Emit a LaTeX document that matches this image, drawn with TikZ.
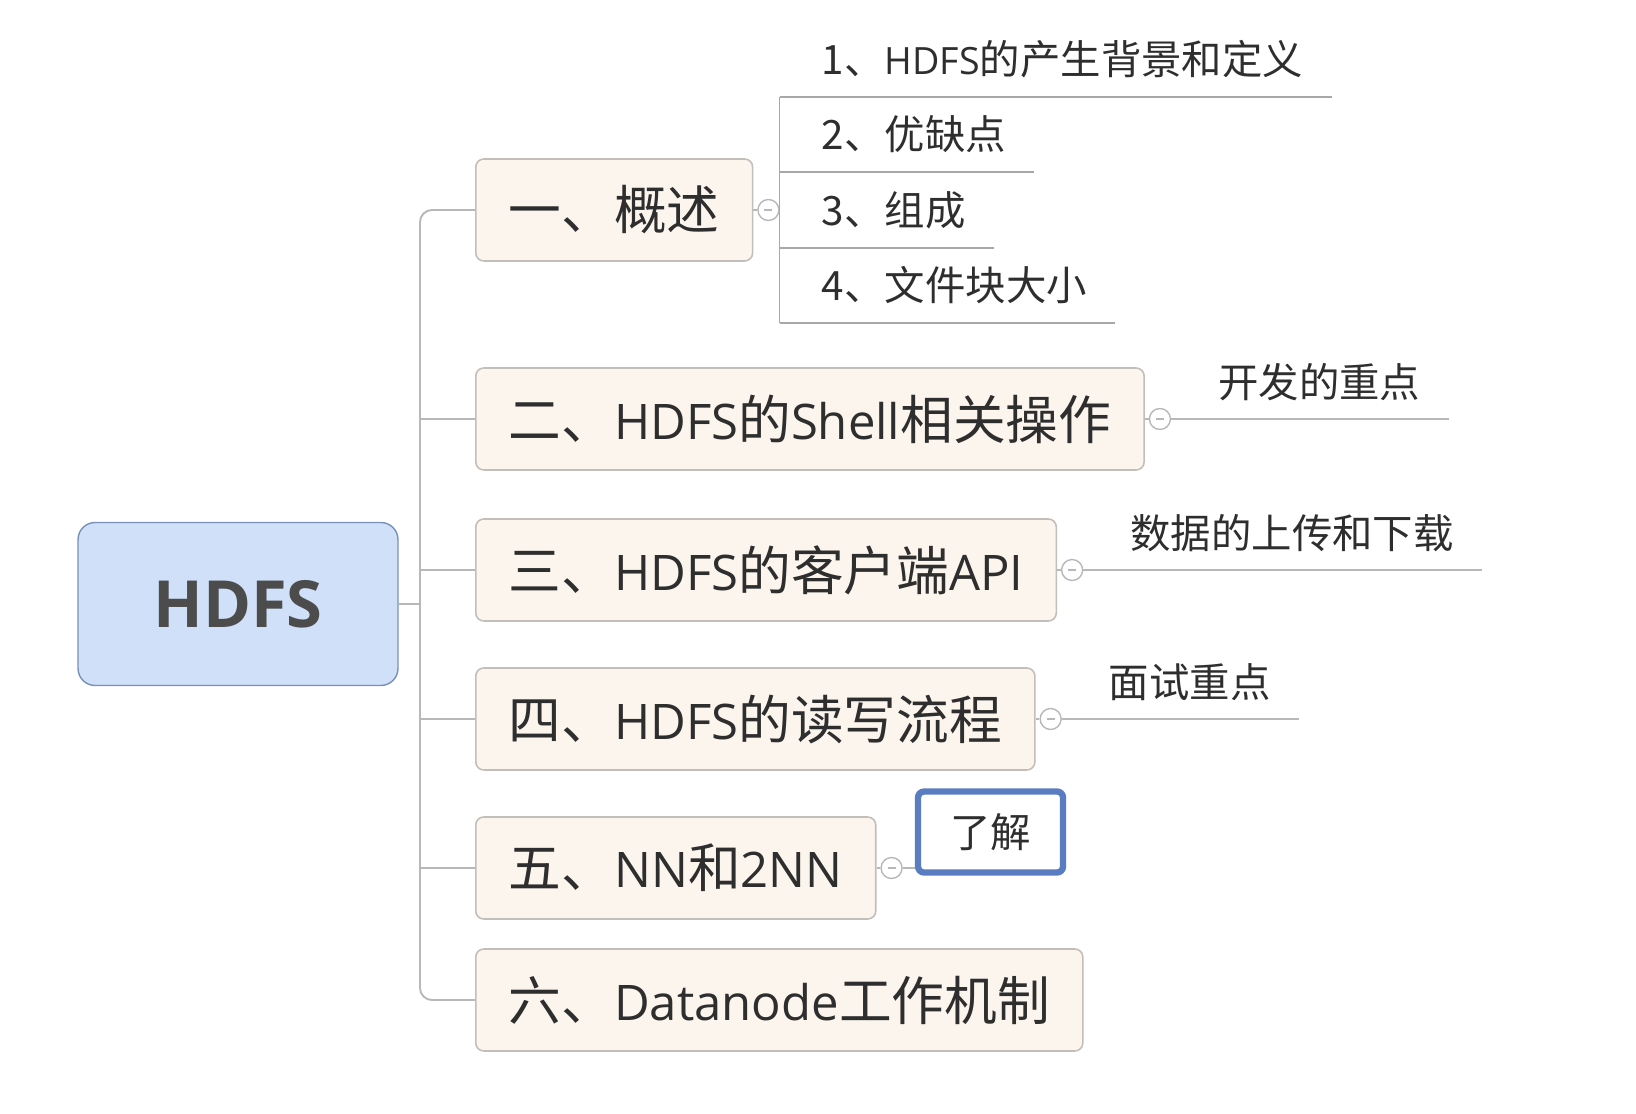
\documentclass[tikz,border=0pt]{standalone}
\usepackage{fontspec}
\setmainfont{Noto Sans CJK SC}
\newfontfamily\enfont[Scale=0.93]{Open Sans}
\newfontfamily\rootfont{Open Sans}
\newcommand{\en}[1]{{\enfont #1}}
\usetikzlibrary{calc}
\definecolor{topicfill}{HTML}{FCF5EE}
\definecolor{topicline}{HTML}{C2BEBA}
\definecolor{rootfill}{HTML}{CFE0F8}
\definecolor{rootline}{HTML}{7A90B8}
\definecolor{conncol}{HTML}{B8B8B8}
\definecolor{subcol}{HTML}{A8A8A8}
\definecolor{tagline}{HTML}{5A7DC2}
\definecolor{textcol}{HTML}{2E2E2E}
\tikzset{
  root/.style={draw=rootline, fill=rootfill, rounded corners=0.34cm, line width=0.8pt,
    minimum width=6.4cm, minimum height=3.26cm, text=black!70,
    font=\rootfont\bfseries\fontsize{37}{37}\selectfont},
  topic/.style={draw=topicline, fill=topicfill, rounded corners=0.16cm, line width=0.9pt,
    minimum height=2.04cm, inner xsep=0.66cm, anchor=west, text=textcol,
    font=\fontsize{30}{30}\selectfont},
  sub/.style={anchor=west, inner sep=0pt, text=textcol, font=\fontsize{23}{23}\selectfont},
  note/.style={sub},
  tag/.style={draw=tagline, line width=3.6pt, rounded corners=0.12cm, fill=white,
    minimum width=2.9cm, minimum height=1.62cm, text=textcol, font=\fontsize{23}{23}\selectfont},
  conn/.style={draw=conncol, line width=1.1pt},
  subline/.style={draw=subcol, line width=0.8pt},
  knob/.style={circle, draw=conncol, fill=white, minimum size=0.42cm, inner sep=0pt, line width=0.8pt,
    path picture={\draw[conncol, line width=0.6pt]
      ($(path picture bounding box.center)+(-4,0)$) -- ($(path picture bounding box.center)+(4,0)$);}}
}
\begin{document}
\begin{tikzpicture}[x=0.02cm, y=-0.02cm]
  \useasboundingbox (0,0) rectangle (1636,1114);
  % Root
  \node[root] (hdfs) at (238,604) {HDFS};
  % Topics
  \node[topic] (t1) at (475,210) {一、概述};
  \node[topic] (t2) at (475,419) {二、\en{HDFS}的\en{Shell}相关操作};
  \node[topic] (t3) at (475,570) {三、\en{HDFS}的客户端\en{API}};
  \node[topic] (t4) at (475,719) {四、\en{HDFS}的读写流程};
  \node[topic] (t5) at (475,868) {五、\en{NN}和\en{2NN}};
  \node[topic] (t6) at (475,1000) {六、\en{Datanode}工作机制};
  % Spine
  \coordinate (spine) at (420,604);
  \draw[conn] (hdfs.east) -- (spine);
  \draw[conn, rounded corners=0.24cm] (t1.west) -| (spine) |- (t6.west);
  \foreach \t in {t2,t3,t4,t5} \draw[conn] (\t.west) -- (\t.west -| spine);
  % Knobs
  \foreach \t in {1,...,5} {
    \node[knob] (k\t) at ($(t\t.east)+(15,0)$) {};
    \draw[conn] (t\t.east) -- (k\t.west);
  }
  % Sub items of the first topic
  \foreach \i/\dy/\txt in {1/-113/{1、\en{HDFS}的产生背景和定义}, 2/-38/{2、优缺点},
                          3/38/{3、组成}, 4/113/{4、文件块大小}} {
    \coordinate (u\i) at ($(k1.east)+(0,\dy)$);
    \node[sub] (s\i) at ($(u\i)+(42,-38)$) {\txt};
    \draw[subline] (u\i) -- ($(u\i -| s\i.east)+(28,0)$);
  }
  \draw[subline] (u1) -- (u4);
  % Notes
  \node[note] (n2) at ($(k2)+(58,-37)$) {开发的重点};
  \draw[conn] (k2.east) -- ($(k2 -| n2.east)+(28,0)$);
  \node[note] (n3) at ($(k3)+(58,-37)$) {数据的上传和下载};
  \draw[conn] (k3.east) -- ($(k3 -| n3.east)+(28,0)$);
  \node[note] (n4) at ($(k4)+(58,-37)$) {面试重点};
  \draw[conn] (k4.east) -- ($(k4 -| n4.east)+(28,0)$);
  \node[tag] (n5) at ($(k5)+(99,-36)$) {了解};
  \draw[conn] (k5.east) -- (k5.east -| n5.west);
\end{tikzpicture}
\end{document}
